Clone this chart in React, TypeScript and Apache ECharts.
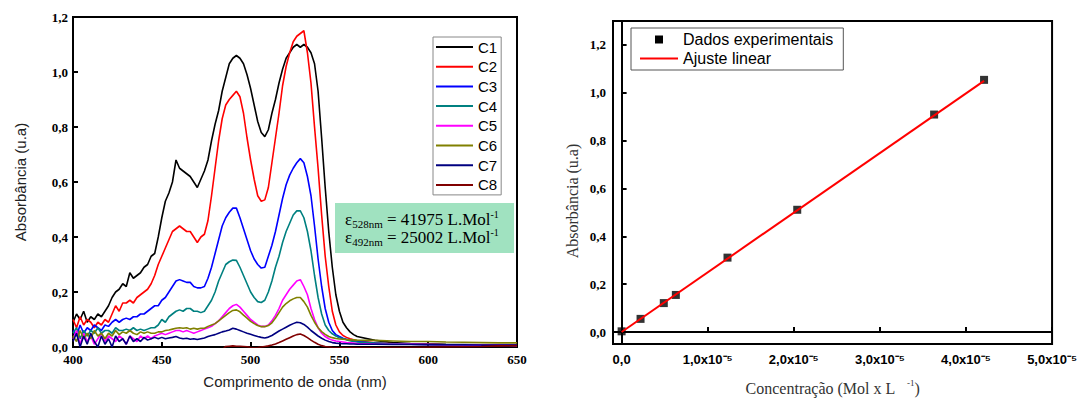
import React, { useEffect, useRef } from 'react';
import * as echarts from 'echarts';

// ---------- Data: left panel (UV-Vis spectra) ----------
const wavelengths = [
  400, 402, 404, 406, 408, 410, 412, 414, 416, 418,
  420, 422, 424, 426, 428, 430, 432, 434, 436, 438,
  440, 442, 444, 446, 448, 450, 452, 454, 456, 458,
  460, 462, 464, 466, 468, 470, 472, 474, 476, 478,
  480, 482, 484, 486, 488, 490, 492, 494, 496, 498,
  500, 502, 504, 506, 508, 510, 512, 514, 516, 518,
  520, 522, 524, 526, 528, 530, 532, 534, 536, 538,
  540, 542, 544, 546, 548, 550, 552, 554, 556, 558,
  560, 570, 580, 590, 600, 610, 620, 630, 640, 650,
];

const c1 = [
  0.09, 0.12, 0.10, 0.13, 0.09, 0.11, 0.10, 0.12, 0.11, 0.13,
  0.15, 0.18, 0.20, 0.21, 0.23, 0.22, 0.27, 0.25, 0.26, 0.27,
  0.29, 0.30, 0.33, 0.34, 0.40, 0.47, 0.53, 0.56, 0.60, 0.68,
  0.65, 0.64, 0.63, 0.62, 0.60, 0.58, 0.61, 0.64, 0.68, 0.75,
  0.81, 0.86, 0.93, 0.98, 1.03, 1.05, 1.06, 1.05, 1.03, 0.99,
  0.94, 0.88, 0.82, 0.78, 0.765, 0.79, 0.85, 0.90, 0.96, 1.01,
  1.05, 1.07, 1.09, 1.10, 1.09, 1.10, 1.09, 1.07, 1.03, 0.93,
  0.76, 0.58, 0.42, 0.29, 0.19, 0.13, 0.09, 0.07, 0.055, 0.045,
  0.038, 0.024, 0.016, 0.013, 0.012, 0.01, 0.009, 0.008, 0.007, 0.007,
];
const c2 = [
  0.10, 0.07, 0.11, 0.08, 0.10, 0.09, 0.07, 0.09, 0.08, 0.10,
  0.09, 0.12, 0.15, 0.13, 0.16, 0.16, 0.17, 0.16, 0.18, 0.19,
  0.20, 0.21, 0.23, 0.26, 0.30, 0.33, 0.36, 0.39, 0.42, 0.43,
  0.44, 0.43, 0.42, 0.42, 0.40, 0.38, 0.40, 0.41, 0.46, 0.55,
  0.65, 0.75, 0.83, 0.88, 0.90, 0.915, 0.93, 0.91, 0.85, 0.76,
  0.68, 0.61, 0.55, 0.53, 0.535, 0.58, 0.67, 0.76, 0.85, 0.95,
  1.02, 1.07, 1.11, 1.13, 1.14, 1.15, 1.07, 0.96, 0.80, 0.65,
  0.48, 0.33, 0.22, 0.13, 0.08, 0.055, 0.042, 0.035, 0.03, 0.026,
  0.022, 0.015, 0.012, 0.01, 0.01, 0.008, 0.007, 0.006, 0.006, 0.005,
];
const c3 = [
  0.06, 0.04, 0.08, 0.05, 0.07, 0.06, 0.08, 0.07, 0.06, 0.08,
  0.075, 0.09, 0.10, 0.09, 0.10, 0.105, 0.10, 0.11, 0.11, 0.12,
  0.12, 0.13, 0.14, 0.15, 0.15, 0.17, 0.18, 0.20, 0.22, 0.24,
  0.245, 0.24, 0.235, 0.235, 0.22, 0.215, 0.215, 0.22, 0.25, 0.29,
  0.34, 0.39, 0.44, 0.47, 0.49, 0.505, 0.505, 0.47, 0.43, 0.39,
  0.35, 0.32, 0.30, 0.287, 0.29, 0.33, 0.37, 0.42, 0.48, 0.54,
  0.59, 0.625, 0.65, 0.67, 0.685, 0.67, 0.62, 0.55, 0.44, 0.32,
  0.22, 0.14, 0.09, 0.06, 0.045, 0.038, 0.032, 0.028, 0.025, 0.022,
  0.02, 0.014, 0.011, 0.01, 0.009, 0.008, 0.007, 0.007, 0.006, 0.006,
];
const c4 = [
  0.05, 0.07, 0.03, 0.06, 0.04, 0.06, 0.05, 0.07, 0.05, 0.06,
  0.06, 0.05, 0.07, 0.06, 0.06, 0.065, 0.06, 0.07, 0.06, 0.065,
  0.06, 0.065, 0.07, 0.07, 0.08, 0.10, 0.09, 0.11, 0.12, 0.13,
  0.135, 0.13, 0.14, 0.14, 0.13, 0.13, 0.125, 0.13, 0.15, 0.17,
  0.20, 0.24, 0.27, 0.30, 0.31, 0.316, 0.315, 0.29, 0.26, 0.23,
  0.20, 0.18, 0.165, 0.162, 0.17, 0.20, 0.24, 0.29, 0.33, 0.38,
  0.42, 0.45, 0.48, 0.495, 0.495, 0.47, 0.42, 0.35, 0.26, 0.18,
  0.12, 0.08, 0.06, 0.048, 0.04, 0.034, 0.03, 0.026, 0.023, 0.02,
  0.018, 0.014, 0.012, 0.01, 0.009, 0.008, 0.008, 0.007, 0.007, 0.006,
];
const c5 = [
  0.03, 0.06, 0.01, 0.05, 0.02, 0.04, 0.01, 0.03, 0.05, 0.02,
  0.04, 0.03, 0.02, 0.04, 0.03, 0.01, 0.04, 0.03, 0.02, 0.04,
  0.03, 0.04, 0.03, 0.04, 0.045, 0.05, 0.045, 0.05, 0.055, 0.06,
  0.06, 0.055, 0.06, 0.055, 0.05, 0.055, 0.06, 0.065, 0.07, 0.075,
  0.085, 0.095, 0.11, 0.125, 0.14, 0.15, 0.155, 0.145, 0.13, 0.115,
  0.10, 0.09, 0.08, 0.075, 0.075, 0.08, 0.095, 0.115, 0.14, 0.17,
  0.19, 0.21, 0.225, 0.24, 0.245, 0.22, 0.19, 0.14, 0.10, 0.07,
  0.05, 0.038, 0.03, 0.025, 0.022, 0.02, 0.018, 0.016, 0.015, 0.014,
  0.013, 0.011, 0.01, 0.01, 0.009, 0.008, 0.008, 0.007, 0.007, 0.006,
];
const c6 = [
  0.04, 0.02, 0.06, 0.03, 0.05, 0.03, 0.06, 0.04, 0.05, 0.03,
  0.05, 0.04, 0.06, 0.045, 0.055, 0.05, 0.06, 0.05, 0.045, 0.055,
  0.05, 0.055, 0.05, 0.05, 0.055, 0.055, 0.06, 0.062, 0.065, 0.068,
  0.07, 0.068, 0.07, 0.065, 0.068, 0.065, 0.068, 0.068, 0.075, 0.08,
  0.085, 0.095, 0.105, 0.115, 0.125, 0.133, 0.135, 0.128, 0.116, 0.105,
  0.093, 0.085, 0.078, 0.074, 0.074, 0.078, 0.088, 0.105, 0.125, 0.145,
  0.158, 0.168, 0.175, 0.18, 0.18, 0.165, 0.145, 0.115, 0.09, 0.07,
  0.056, 0.046, 0.038, 0.034, 0.031, 0.029, 0.028, 0.027, 0.026, 0.026,
  0.025, 0.024, 0.022, 0.02, 0.02, 0.018, 0.017, 0.016, 0.015, 0.015,
];
const c7 = [
  0.02, 0.05, 0.00, 0.04, 0.01, 0.05, 0.02, 0.00, 0.04, 0.01,
  0.03, 0.00, 0.04, 0.02, 0.03, 0.01, 0.04, 0.02, 0.03, 0.02,
  0.035, 0.025, 0.03, 0.035, 0.03, 0.035, 0.03, 0.033, 0.035, 0.038,
  0.033, 0.03, 0.032, 0.028, 0.03, 0.027, 0.03, 0.033, 0.038, 0.042,
  0.045, 0.05, 0.055, 0.058, 0.062, 0.068, 0.065, 0.06, 0.055, 0.05,
  0.046, 0.042, 0.038, 0.035, 0.033, 0.036, 0.042, 0.05, 0.058, 0.065,
  0.072, 0.079, 0.085, 0.09, 0.088, 0.082, 0.072, 0.06, 0.05, 0.04,
  0.032, 0.025, 0.02, 0.016, 0.014, 0.013, 0.012, 0.012, 0.011, 0.011,
  0.01, 0.01, 0.009, 0.009, 0.008, 0.008, 0.008, 0.007, 0.007, 0.007,
];
const c8 = [
  -0.01, -0.01, -0.01, -0.01, -0.01, -0.01, -0.01, -0.01, -0.01, -0.01,
  -0.01, -0.01, -0.01, -0.01, -0.01, -0.01, -0.01, -0.01, -0.01, -0.01,
  -0.01, -0.01, -0.01, -0.01, -0.01, -0.01, -0.01, -0.01, -0.01, -0.01,
  -0.01, -0.01, -0.01, -0.01, -0.01, -0.01, -0.01, -0.01, -0.01, -0.01,
  -0.01, -0.01, -0.01, 0.002, 0.003, 0.004, 0.003, 0.003, 0.002, 0.001,
  -0.002, -0.003, -0.002, 0.0, 0.002, 0.004, 0.007, 0.011, 0.016, 0.022,
  0.028, 0.034, 0.04, 0.045, 0.047, 0.042, 0.034, 0.025, 0.017, 0.01,
  0.005, 0.002, 0.0, -0.002, -0.003, -0.003, -0.003, -0.003, -0.003, -0.003,
  -0.003, -0.003, -0.002, -0.002, -0.001, 0.0, 0.001, 0.002, 0.004, 0.005,
];

const spectraNames = ['C1', 'C2', 'C3', 'C4', 'C5', 'C6', 'C7', 'C8'];
const spectraValues = [c1, c2, c3, c4, c5, c6, c7, c8];
const spectraColors = ['#000000', '#ff0000', '#0000ff', '#008080', '#ff00ff', '#808000', '#000080', '#800000'];

const leftXTicks = [400, 450, 500, 550, 600, 650];
const leftYTicks = [0, 0.2, 0.4, 0.6, 0.8, 1.0, 1.2];

// ---------- Data: right panel (calibration) ----------
const concentrations = [0, 2.2e-6, 4.9e-6, 6.3e-6, 1.23e-5, 2.04e-5, 3.63e-5, 4.21e-5];
const absorbances = [0.003, 0.055, 0.121, 0.155, 0.311, 0.511, 0.909, 1.054];
const fitConcentrations = [0, 4.21e-5];
const fitAbsorbances = [0.0, 1.05];

const rightXTicks = [0, 1e-5, 2e-5, 3e-5, 4e-5, 5e-5];
const rightYTicks = [0, 0.2, 0.4, 0.6, 0.8, 1.0, 1.2];

const SERIF = "'Times New Roman', 'Liberation Serif', serif";
const SANS = "Arial, 'Liberation Sans', sans-serif";

const comma = (v: number) => v.toFixed(1).replace('.', ',');

function buildOption() {
  const spectraSeries = spectraNames.map((name, k) => ({
    name,
    type: 'line',
    xAxisIndex: 0,
    yAxisIndex: 0,
    symbol: 'none',
    clip: true,
    data: wavelengths.map((w, i) => [w, spectraValues[k][i]]),
    lineStyle: { color: spectraColors[k], width: 1.6 },
    itemStyle: { color: spectraColors[k] },
    z: 2 + k,
  }));

  const tickStyle = { inside: true, length: 5, lineStyle: { color: '#000', width: 2 } };
  const hiddenSymbol = { opacity: 0 };

  return {
    animation: false,
    backgroundColor: '#ffffff',
    grid: [
      { left: 73, top: 17, width: 444, height: 330, show: true, borderColor: '#000', borderWidth: 2, backgroundColor: 'transparent' },
      { left: 613, top: 21, width: 445, height: 328, show: true, borderColor: '#000', borderWidth: 2, backgroundColor: 'transparent' },
    ],
    legend: [
      {
        data: spectraNames.map((n) => ({ name: n, itemStyle: hiddenSymbol })),
        orient: 'vertical',
        left: 433,
        top: 37,
        padding: [2, 4, 2, 2],
        itemGap: 3.7,
        itemWidth: 37,
        itemHeight: 10,
        itemTextGap: 4,
        borderColor: '#888',
        borderWidth: 1,
        textStyle: { fontFamily: SANS, fontSize: 15, color: '#000', lineHeight: 16 },
        lineStyle: { width: 2 },
      },
      {
        data: [
          { name: 'Dados experimentais', icon: 'path://M0,0H10V10H0Z', itemStyle: { color: '#000', opacity: 1 } },
          { name: 'Ajuste linear', itemStyle: hiddenSymbol },
        ],
        orient: 'vertical',
        left: 631,
        top: 28,
        padding: [2, 10, 2, 8],
        itemGap: 0,
        itemWidth: 38,
        itemHeight: 8,
        itemTextGap: 2,
        symbolKeepAspect: true,
        borderColor: '#555',
        borderWidth: 1,
        textStyle: { fontFamily: SANS, fontSize: 16, color: '#000', lineHeight: 19 },
      },
    ],
    xAxis: [
      {
        gridIndex: 0,
        type: 'value',
        min: 400,
        max: 650,
        interval: 50,
        axisLine: { lineStyle: { color: '#000', width: 2 } },
        axisTick: { ...tickStyle, customValues: leftXTicks },
        axisLabel: { customValues: leftXTicks, fontFamily: SERIF, fontWeight: 'bold', fontSize: 13, color: '#000', margin: 6 },
        splitLine: { show: false },
        name: 'Comprimento de onda (nm)',
        nameLocation: 'middle',
        nameGap: 27,
        nameTextStyle: { fontFamily: SANS, fontSize: 15, color: '#222' },
      },
      {
        gridIndex: 1,
        type: 'value',
        min: -1e-6,
        max: 5e-5,
        axisLine: { lineStyle: { color: '#000', width: 2 } },
        axisTick: { ...tickStyle, customValues: rightXTicks },
        axisLabel: {
          customValues: rightXTicks,
          margin: 9,
          fontFamily: SANS,
          fontWeight: 'bold',
          fontSize: 13,
          color: '#000',
          formatter: (v: number) => (Math.abs(v) < 1e-12 ? '0,0' : `${comma(v * 1e5)}x10\u207B\u2075`),
        },
        splitLine: { show: false },
        name: '{t|Concentração (Mol x L   }{s|-1}{t|)}',
        nameLocation: 'middle',
        nameGap: 34,
        nameTextStyle: {
          fontFamily: SERIF,
          fontSize: 16,
          color: '#333',
          rich: {
            t: { fontFamily: SERIF, fontSize: 16, color: '#333', lineHeight: 18, verticalAlign: 'bottom' },
            s: { fontFamily: SERIF, fontSize: 9, color: '#333', lineHeight: 9, verticalAlign: 'top' },
          },
        },
      },
    ],
    yAxis: [
      {
        gridIndex: 0,
        type: 'value',
        min: 0,
        max: 1.2,
        interval: 0.2,
        axisLine: { lineStyle: { color: '#000', width: 2 } },
        axisTick: { ...tickStyle, customValues: leftYTicks },
        axisLabel: { customValues: leftYTicks, formatter: (v: number) => comma(v), fontFamily: SERIF, fontWeight: 'bold', fontSize: 13, color: '#000', margin: 5 },
        splitLine: { show: false },
        name: 'Absorbância (u.a)',
        nameLocation: 'middle',
        nameGap: 45,
        nameTextStyle: { fontFamily: SANS, fontSize: 15, color: '#222' },
      },
      {
        gridIndex: 1,
        type: 'value',
        min: -0.05,
        max: 1.3,
        axisLine: { lineStyle: { color: '#000', width: 2 } },
        axisTick: { ...tickStyle, customValues: rightYTicks },
        axisLabel: { customValues: rightYTicks, formatter: (v: number) => comma(v), fontFamily: SERIF, fontWeight: 'bold', fontSize: 13, color: '#000', margin: 7 },
        splitLine: { show: false },
      },
    ],
    series: [
      ...spectraSeries,
      {
        name: 'Dados experimentais',
        type: 'scatter',
        xAxisIndex: 1,
        yAxisIndex: 1,
        symbol: 'rect',
        symbolSize: 8,
        data: concentrations.map((c, i) => [c, absorbances[i]]),
        itemStyle: { color: '#000' },
        z: 3,
      },
      {
        name: 'Ajuste linear',
        type: 'line',
        xAxisIndex: 1,
        yAxisIndex: 1,
        symbol: 'none',
        data: fitConcentrations.map((c, i) => [c, fitAbsorbances[i]]),
        lineStyle: { color: '#ff0000', width: 2 },
        itemStyle: { color: '#ff0000' },
        z: 4,
      },
    ],
    graphic: [
      {
        type: 'rect',
        shape: { x: 335, y: 203, width: 179, height: 50 },
        style: { fill: '#a0e2c0' },
        z: 100,
      },
      {
        type: 'text',
        x: 345,
        y: 219,
        z: 101,
        style: {
          text: '{e|ε}{s|528nm}{t| = 41975 L.Mol}{p|-1}',
          textVerticalAlign: 'middle',
          rich: {
            e: { fontFamily: SERIF, fontSize: 17, fill: '#000', lineHeight: 20, verticalAlign: 'middle' },
            s: { fontFamily: SERIF, fontSize: 11, fill: '#000', lineHeight: 11, verticalAlign: 'bottom' },
            t: { fontFamily: SERIF, fontSize: 17, fill: '#000', lineHeight: 20, verticalAlign: 'middle' },
            p: { fontFamily: SERIF, fontSize: 10, fill: '#000', lineHeight: 10, verticalAlign: 'top' },
          },
        },
      },
      {
        type: 'text',
        x: 345,
        y: 237,
        z: 101,
        style: {
          text: '{e|ε}{s|492nm}{t| = 25002 L.Mol}{p|-1}',
          textVerticalAlign: 'middle',
          rich: {
            e: { fontFamily: SERIF, fontSize: 17, fill: '#000', lineHeight: 20, verticalAlign: 'middle' },
            s: { fontFamily: SERIF, fontSize: 11, fill: '#000', lineHeight: 11, verticalAlign: 'bottom' },
            t: { fontFamily: SERIF, fontSize: 17, fill: '#000', lineHeight: 20, verticalAlign: 'middle' },
            p: { fontFamily: SERIF, fontSize: 10, fill: '#000', lineHeight: 10, verticalAlign: 'top' },
          },
        },
      },
      {
        type: 'text',
        x: 572,
        y: 201,
        rotation: Math.PI / 2,
        style: {
          text: 'Absorbância (u.a)',
          fontFamily: SERIF,
          fontSize: 16,
          fill: '#333',
          textAlign: 'center',
          textVerticalAlign: 'middle',
        },
      },
    ],
  };
}

export default function App() {
  const ref = useRef<HTMLDivElement>(null);
  useEffect(() => {
    if (!ref.current) return;
    const chart = echarts.init(ref.current, null, { renderer: 'svg' });
    chart.setOption(buildOption() as any);
    return () => chart.dispose();
  }, []);
  return (
    <div
      ref={ref}
      style={{ position: 'absolute', left: 0, top: 0, width: 1080, height: 401, background: '#fff' }}
    />
  );
}
